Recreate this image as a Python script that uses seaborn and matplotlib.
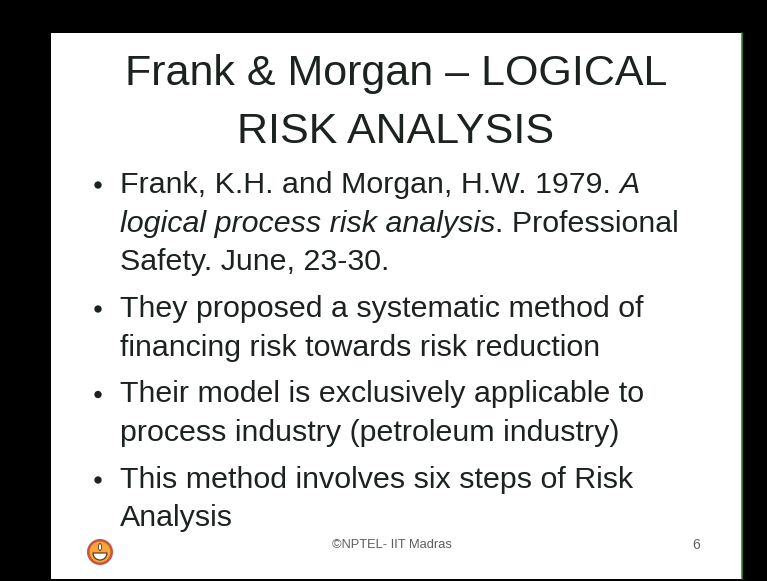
import matplotlib
matplotlib.use("Agg")
import matplotlib.pyplot as plt
from matplotlib.patches import Rectangle, Circle, Wedge, Ellipse
import seaborn as sns
import pandas as pd

# slide content
title_lines = ["Frank & Morgan \u2013 LOGICAL", "RISK ANALYSIS"]

bullet_1 = [
    [("Frank, K.H. and Morgan, H.W. 1979. ", "normal"), ("A", "italic")],
    [("logical process risk analysis", "italic"), (". Professional", "normal")],
    [("Safety. June, 23-30.", "normal")],
]
bullet_2 = [
    [("They proposed a systematic method of", "normal")],
    [("financing risk towards risk reduction", "normal")],
]
bullet_3 = [
    [("Their model is exclusively applicable to", "normal")],
    [("process industry (petroleum industry)", "normal")],
]
bullet_4 = [
    [("This method involves six steps of Risk", "normal")],
    [("Analysis", "normal")],
]
bullets = [bullet_1, bullet_2, bullet_3, bullet_4]

footer_text = "\u00a9NPTEL- IIT Madras"
page_number = "6"

W, H = 767, 581
TEXT_COLOR = "#1c231f"
GREY = "#5a605c"

sns.set_theme(style="white")
plt.rcParams["font.family"] = ["Liberation Sans", "DejaVu Sans"]

fig = plt.figure(figsize=(W / 100, H / 100), dpi=100)
fig.patch.set_facecolor("black")
ax = fig.add_axes([0, 0, 1, 1])
ax.set_xlim(0, W)
ax.set_ylim(H, 0)
ax.axis("off")

# white slide on black frame
ax.add_patch(Rectangle((51, 33), 691, 546, facecolor="white", edgecolor="none", zorder=0))
ax.plot([742, 742], [33, 579], color="#2e8b3e", lw=1.2, zorder=1)

# title
for i, line in enumerate(title_lines):
    ax.text(396, 85 + i * 58, line, ha="center", va="baseline",
            fontsize=31, color=TEXT_COLOR)

# bullets
renderer = fig.canvas.get_renderer()
text_x, bullet_x = 120, 98
line_gap, para_gap = 38.5, 8.5
y = 193
dots = []
for para in bullets:
    dots.append((bullet_x, y - 8))
    for line in para:
        x = text_x
        for piece, style in line:
            t = ax.text(x, y, piece, ha="left", va="baseline", fontsize=21.9,
                        style=style, color=TEXT_COLOR)
            x += t.get_window_extent(renderer).width
        y += line_gap
    y += para_gap

dot_df = pd.DataFrame(dots, columns=["x", "y"])
sns.scatterplot(data=dot_df, x="x", y="y", ax=ax, s=28, color=TEXT_COLOR,
                edgecolor="none", legend=False, zorder=3)

# footer
ax.text(392, 548, footer_text, ha="center", va="baseline", fontsize=9.3,
        color=GREY, family=["Liberation Sans Narrow", "Liberation Sans"])
ax.text(696, 549, page_number, ha="center", va="baseline", fontsize=10,
        color=GREY)

# institute logo
cx, cy = 100, 552
ax.add_patch(Circle((cx, cy), 13, facecolor="#c4553c", edgecolor="none", zorder=2))
ax.add_patch(Circle((cx, cy), 10.5, facecolor="#f4a63a", edgecolor="none", zorder=3))
ax.add_patch(Wedge((cx, cy + 1), 7, 0, 180, facecolor="white", edgecolor="#5a2a1a",
                   lw=0.8, zorder=4))
ax.add_patch(Ellipse((cx, cy - 5), 3, 7, facecolor="white", edgecolor="#5a2a1a",
                     lw=0.6, zorder=4))

fig.savefig("out.png", dpi=100, facecolor="black")
